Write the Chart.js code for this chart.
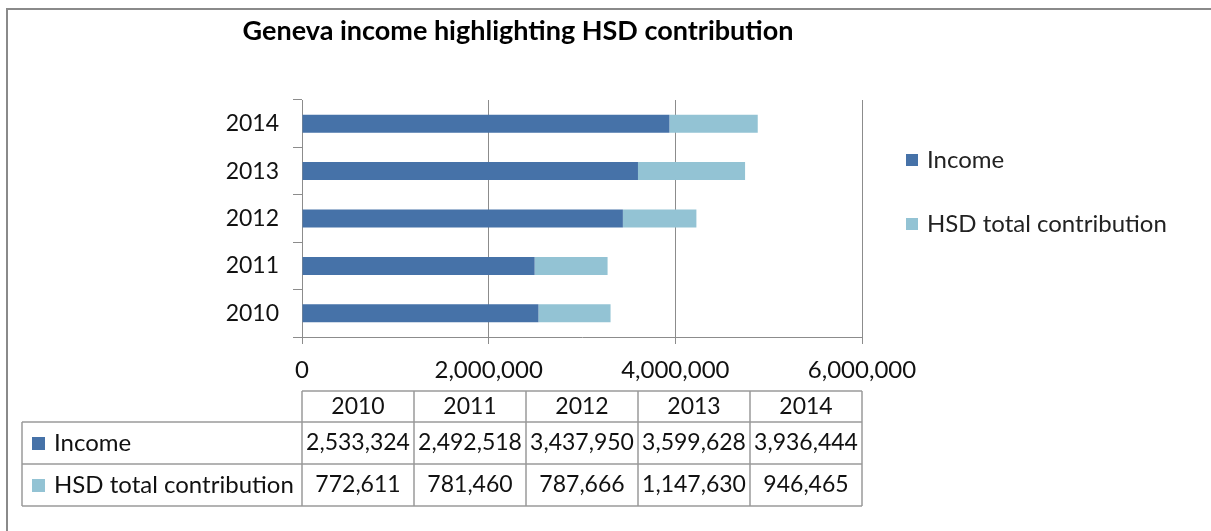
<!DOCTYPE html>
<html>
<head>
<meta charset="utf-8">
<script src="https://cdn.jsdelivr.net/npm/chart.js@4"></script>
<style>
  html, body { margin: 0; padding: 0; background: #fff; }
</style>
</head>
<body>
<canvas id="theCanvas" width="1211" height="531"></canvas>
<script>
// chart data
var years = ['2010', '2011', '2012', '2013', '2014'];
var income = [2533324, 2492518, 3437950, 3599628, 3936444];
var hsd = [772611, 781460, 787666, 1147630, 946465];
var seriesNames = ['Income', 'HSD total contribution'];
var xTicks = [0, 2000000, 4000000, 6000000];
var chartTitle = 'Geneva income highlighting HSD contribution';

var colors = ['#4672a8', '#93c3d4'];
var fontFam = 'Lato, "Open Sans", sans-serif';
var gridColor = '#8c8c8c';

function fmt(v) { return v.toLocaleString('en-US'); }

// frame, title, legend and data table
var extras = {
    id: 'extras',
    afterDraw: function(chart) {
        var ctx = chart.ctx;
        var area = chart.chartArea;
        ctx.save();

        // outer frame (only top and left show)
        ctx.strokeStyle = '#8a8a8a';
        ctx.lineWidth = 2;
        ctx.beginPath();
        ctx.moveTo(7, 531);
        ctx.lineTo(7, 9);
        ctx.lineTo(1211, 9);
        ctx.stroke();

        // title
        ctx.fillStyle = '#000';
        ctx.font = 'bold 27px ' + fontFam;
        ctx.textAlign = 'center';
        ctx.textBaseline = 'middle';
        ctx.fillText(chartTitle, 518, 31);

        // legend on the right
        ctx.font = '24px ' + fontFam;
        ctx.textAlign = 'left';
        var legY = [160, 224];
        for (var i = 0; i < seriesNames.length; i++) {
            ctx.fillStyle = colors[i];
            ctx.fillRect(906, legY[i] - 6, 12, 12);
            ctx.fillStyle = '#222';
            ctx.fillText(seriesNames[i], 927, legY[i]);
        }

        // data table under the axis
        var rows = [391, 422, 464, 506];
        var left = 22;
        var colW = (area.right - area.left) / years.length;
        ctx.strokeStyle = '#9a9a9a';
        ctx.lineWidth = 1.5;
        ctx.beginPath();
        // header row (year cells only)
        ctx.moveTo(area.left, rows[0]); ctx.lineTo(area.right, rows[0]);
        for (var r = 1; r < rows.length; r++) {
            ctx.moveTo(left, rows[r]); ctx.lineTo(area.right, rows[r]);
        }
        ctx.moveTo(left, rows[1]); ctx.lineTo(left, rows[3]);
        for (var c = 0; c <= years.length; c++) {
            var x = area.left + c * colW;
            ctx.moveTo(x, rows[0]); ctx.lineTo(x, rows[3]);
        }
        ctx.stroke();

        ctx.font = '23px ' + fontFam;
        ctx.textAlign = 'center';
        ctx.fillStyle = '#111';
        var series = [income, hsd];
        for (var c = 0; c < years.length; c++) {
            var cx = area.left + (c + 0.5) * colW;
            ctx.fillText(years[c], cx, (rows[0] + rows[1]) / 2);
            for (var s = 0; s < series.length; s++) {
                ctx.fillText(fmt(series[s][c]), cx, (rows[s + 1] + rows[s + 2]) / 2);
            }
        }
        ctx.font = '24px ' + fontFam;
        ctx.textAlign = 'left';
        for (var s = 0; s < seriesNames.length; s++) {
            var cy = (rows[s + 1] + rows[s + 2]) / 2;
            ctx.fillStyle = colors[s];
            ctx.fillRect(32, cy - 6, 13, 13);
            ctx.fillStyle = '#111';
            ctx.fillText(seriesNames[s], 54, cy);
        }
        ctx.restore();
    }
};

var ctx = document.getElementById('theCanvas');
var myChart = new Chart(ctx, {
    type: 'bar',
    data: {
        labels: years,
        datasets: [{
            label: seriesNames[0],
            data: income,
            backgroundColor: colors[0],
            barPercentage: 0.38,
            categoryPercentage: 1
        }, {
            label: seriesNames[1],
            data: hsd,
            backgroundColor: colors[1],
            barPercentage: 0.38,
            categoryPercentage: 1
        }]
    },
    options: {
        indexAxis: 'y',
        responsive: false,
        animation: false,
        layout: { padding: { left: 0, top: 100, right: 349, bottom: 0 } },
        plugins: {
            legend: { display: false },
            tooltip: { enabled: false }
        },
        scales: {
            x: {
                stacked: true,
                min: 0,
                max: 6000000,
                afterBuildTicks: function(s) { s.ticks = xTicks.map(function(v) { return { value: v }; }); },
                afterFit: function(s) { s.height = 531 - 337; },
                ticks: {
                    color: '#111',
                    font: { family: fontFam, size: 24 },
                    padding: 12,
                    callback: function(v) { return fmt(v); }
                },
                grid: { color: gridColor, lineWidth: 1, tickLength: 7 },
                border: { color: gridColor, width: 1 }
            },
            y: {
                stacked: true,
                reverse: true,
                afterFit: function(s) { s.width = 302; },
                ticks: {
                    color: '#111',
                    font: { family: fontFam, size: 23 },
                    padding: 14
                },
                grid: { drawOnChartArea: false, color: gridColor, tickLength: 9 },
                border: { color: gridColor, width: 1 }
            }
        }
    },
    plugins: [extras]
});
</script>
</body>
</html>
